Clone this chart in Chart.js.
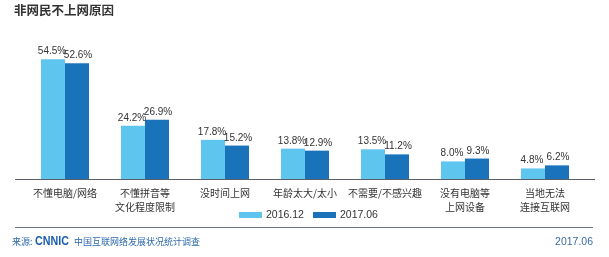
<!DOCTYPE html>
<html><head><meta charset="utf-8">
<script src="https://cdn.jsdelivr.net/npm/chart.js@4/dist/chart.umd.min.js"></script>
<style>html,body{margin:0;padding:0;background:#fff;}#wrap{width:609px;height:257px;position:relative;}</style>
</head><body><div id="wrap"><canvas id="c" width="609" height="257"></canvas></div>
<script>
const categories = [['不懂电脑/网络'], ['不懂拼音等','文化程度限制'], ['没时间上网'], ['年龄太大/太小'], ['不需要/不感兴趣'], ['没有电脑等','上网设备'], ['当地无法','连接互联网']];
const series2016 = [54.5, 24.2, 17.8, 13.8, 13.5, 8.0, 4.8];
const series2017 = [52.6, 26.9, 15.2, 12.9, 11.2, 9.3, 6.2];
const seriesNames = ['2016.12', '2017.06'];
const titleText = '非网民不上网原因';
const sourceLabel = '来源:';
const sourceOrg = 'CNNIC';
const sourceText = '中国互联网络发展状况统计调查';
const dateText = '2017.06';

const LIGHT = '#5ec6ee', DARK = '#1a73ba';
const CJK = '"Noto Sans CJK SC", "Noto Sans", sans-serif';
const LAT = '"Liberation Sans", Arial, sans-serif';

const deco = {
  id: 'deco',
  afterDatasetsDraw(chart) {
    const ctx = chart.ctx;
    const y = chart.scales.y;
    ctx.save();
    // baseline
    const by = Math.round(y.getPixelForValue(0)) + 0.5;
    ctx.strokeStyle = '#5a5f66'; ctx.lineWidth = 1;
    ctx.beginPath(); ctx.moveTo(15, by); ctx.lineTo(595, by); ctx.stroke();
    // value labels
    ctx.font = '10px ' + LAT;
    ctx.fillStyle = '#333'; ctx.textAlign = 'center'; ctx.textBaseline = 'alphabetic';
    chart.data.datasets.forEach((ds, di) => {
      chart.getDatasetMeta(di).data.forEach((bar, i) => {
        ctx.fillText(ds.data[i].toFixed(1) + '%', bar.x + (di === 0 ? -1 : 1), bar.y - 5);
      });
    });
    // title
    ctx.font = 'bold 12.5px ' + CJK;
    ctx.textAlign = 'left'; ctx.textBaseline = 'middle'; ctx.fillStyle = '#333';
    ctx.fillText(titleText, 14, 10);
    // legend
    const legend = [[239, LIGHT, seriesNames[0], 266], [313, DARK, seriesNames[1], 340]];
    ctx.font = '10.5px ' + LAT;
    legend.forEach(([sx, col, txt, tx]) => {
      ctx.fillStyle = col; ctx.fillRect(sx, 212, 23, 6);
      ctx.fillStyle = '#333'; ctx.fillText(txt, tx, 215.5);
    });
    // footer line
    ctx.strokeStyle = '#6b7785'; ctx.beginPath(); ctx.moveTo(15, 227.5); ctx.lineTo(593, 227.5); ctx.stroke();
    // footer text
    ctx.fillStyle = '#2d6aae'; ctx.font = '9px ' + CJK;
    ctx.fillText(sourceLabel, 12, 242);
    ctx.font = 'bold 12px ' + LAT;
    ctx.fillStyle = '#1c5eae';
    const w = ctx.measureText(sourceOrg).width;
    ctx.save(); ctx.translate(35, 242); ctx.scale(34 / w, 1); ctx.fillText(sourceOrg, 0, 0); ctx.restore();
    ctx.fillStyle = '#2d6aae'; ctx.font = '9px ' + CJK;
    ctx.fillText(sourceText, 74, 242);
    ctx.fillStyle = '#3b6aa0'; ctx.font = '10.5px ' + LAT;
    ctx.textAlign = 'right';
    ctx.fillText(dateText, 593, 242);
    ctx.restore();
  }
};

new Chart(document.getElementById('c'), {
  type: 'bar',
  data: {
    labels: categories,
    datasets: [
      { label: seriesNames[0], data: series2016, backgroundColor: LIGHT },
      { label: seriesNames[1], data: series2017, backgroundColor: DARK }
    ]
  },
  options: {
    responsive: false, animation: false,
    layout: { padding: { left: 25, right: 24, top: 40, bottom: 0 } },
    plugins: { legend: { display: false }, tooltip: { enabled: false }, title: { display: false } },
    datasets: { bar: { categoryPercentage: 0.6, barPercentage: 1.0 } },
    scales: {
      x: {
        grid: { display: false, drawTicks: false, tickLength: 0 }, border: { display: false },
        ticks: { color: '#333', font: { size: 10, family: CJK, lineHeight: 1.4 }, padding: 7, maxRotation: 0, autoSkip: false },
        afterFit(s) { s.height = 78; }
      },
      y: {
        display: false, min: 0, max: 63.2
      }
    }
  },
  plugins: [deco]
});
</script></body></html>
